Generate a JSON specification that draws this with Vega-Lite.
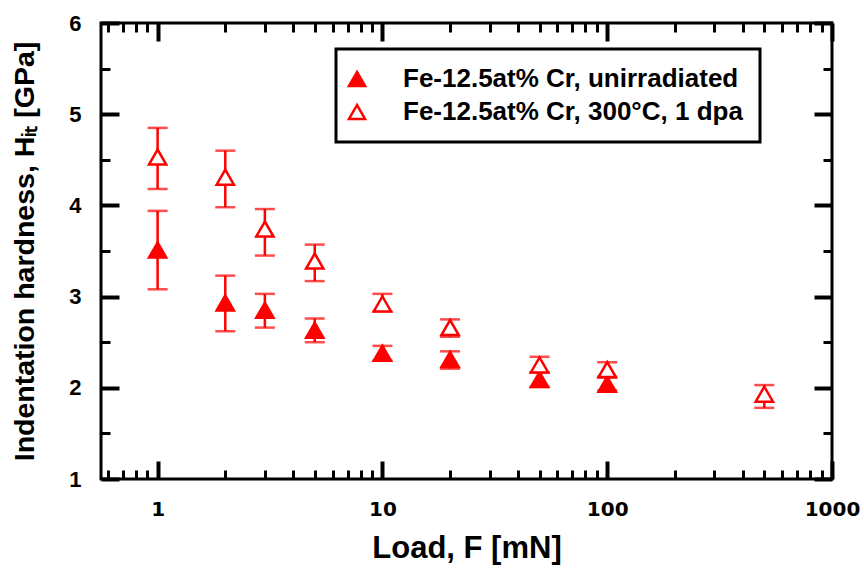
{
  "$schema": "https://vega.github.io/schema/vega-lite/v6.json",
  "width": 731,
  "height": 456,
  "autosize": {"type": "none"},
  "padding": {"left": 101, "top": 23, "right": 32, "bottom": 91},
  "background": "white",
  "config": {
    "view": {"stroke": "black", "strokeWidth": 3},
    "font": "Liberation Sans",
    "axis": {"grid": false, "domain": false, "tickColor": "black", "labelColor": "black", "titleColor": "black", "labelOverlap": false, "labelFlush": false, "labelBound": false},
    "legend": {"strokeWidth": 3}
  },
  "data": {
    "values": [
      {"series": "Fe-12.5at% Cr, unirradiated", "load": 1, "H": 3.51, "lo": 3.08, "hi": 3.94},
      {"series": "Fe-12.5at% Cr, unirradiated", "load": 2, "H": 2.93, "lo": 2.62, "hi": 3.23},
      {"series": "Fe-12.5at% Cr, unirradiated", "load": 3, "H": 2.85, "lo": 2.66, "hi": 3.03},
      {"series": "Fe-12.5at% Cr, unirradiated", "load": 5, "H": 2.63, "lo": 2.50, "hi": 2.76},
      {"series": "Fe-12.5at% Cr, unirradiated", "load": 10, "H": 2.38, "lo": 2.30, "hi": 2.46},
      {"series": "Fe-12.5at% Cr, unirradiated", "load": 20, "H": 2.31, "lo": 2.21, "hi": 2.40},
      {"series": "Fe-12.5at% Cr, unirradiated", "load": 50, "H": 2.09, "lo": 2.01, "hi": 2.17},
      {"series": "Fe-12.5at% Cr, unirradiated", "load": 100, "H": 2.04, "lo": 1.97, "hi": 2.11},
      {"series": "Fe-12.5at% Cr, 300°C, 1 dpa", "load": 1, "H": 4.53, "lo": 4.18, "hi": 4.85},
      {"series": "Fe-12.5at% Cr, 300°C, 1 dpa", "load": 2, "H": 4.31, "lo": 3.98, "hi": 4.60},
      {"series": "Fe-12.5at% Cr, 300°C, 1 dpa", "load": 3, "H": 3.74, "lo": 3.45, "hi": 3.96},
      {"series": "Fe-12.5at% Cr, 300°C, 1 dpa", "load": 5, "H": 3.39, "lo": 3.17, "hi": 3.57},
      {"series": "Fe-12.5at% Cr, 300°C, 1 dpa", "load": 10, "H": 2.92, "lo": 2.84, "hi": 3.03},
      {"series": "Fe-12.5at% Cr, 300°C, 1 dpa", "load": 20, "H": 2.66, "lo": 2.56, "hi": 2.75},
      {"series": "Fe-12.5at% Cr, 300°C, 1 dpa", "load": 50, "H": 2.25, "lo": 2.17, "hi": 2.34},
      {"series": "Fe-12.5at% Cr, 300°C, 1 dpa", "load": 100, "H": 2.20, "lo": 2.12, "hi": 2.28},
      {"series": "Fe-12.5at% Cr, 300°C, 1 dpa", "load": 500, "H": 1.93, "lo": 1.78, "hi": 2.03}
    ]
  },
  "layer": [
    {
      "mark": {"type": "rule", "color": "#ff0000", "strokeWidth": 2.5},
      "encoding": {
        "x": {
          "field": "load", "type": "quantitative",
          "scale": {"type": "log", "domain": [0.56, 1000], "nice": false},
          "axis": {
            "orient": "bottom",
            "values": [0.6, 0.7, 0.8, 0.9, 1, 2, 3, 4, 5, 6, 7, 8, 9, 10, 20, 30, 40, 50, 60, 70, 80, 90, 100, 200, 300, 400, 500, 600, 700, 800, 900, 1000],
            "labelExpr": "indexof([1, 10, 100, 1000], datum.value) >= 0 ? '' + datum.value : ''",
            "tickSize": {"condition": {"test": "indexof([1, 10, 100, 1000], datum.value) >= 0", "value": -18}, "value": -9},
            "tickWidth": {"condition": {"test": "indexof([1, 10, 100, 1000], datum.value) >= 0", "value": 4}, "value": 3},
            "labelFont": "DejaVu Sans", "labelFontWeight": "bold", "labelFontSize": 20,
            "labelPadding": 38,
            "title": "Load, F [mN]",
            "titleFont": "Liberation Sans", "titleFontWeight": "bold", "titleFontSize": 31,
            "titlePadding": 5
          }
        },
        "y": {
          "field": "lo", "type": "quantitative",
          "scale": {"domain": [1, 6], "nice": false, "zero": false},
          "axis": {
            "orient": "left",
            "values": [1, 1.5, 2, 2.5, 3, 3.5, 4, 4.5, 5, 5.5, 6],
            "labelExpr": "datum.value % 1 === 0 ? '' + datum.value : ''",
            "tickSize": {"condition": {"test": "datum.value % 1 === 0", "value": -18}, "value": -9},
            "tickWidth": {"condition": {"test": "datum.value % 1 === 0", "value": 4}, "value": 3},
            "labelFont": "Liberation Sans", "labelFontWeight": "bold", "labelFontSize": 22,
            "labelPadding": 38,
            "title": "Indentation hardness, Hᵢₜ [GPa]",
            "titleFont": "Liberation Sans", "titleFontWeight": "bold", "titleFontSize": 28.5,
            "titlePadding": 29
          }
        },
        "y2": {"field": "hi"}
      }
    },
    {
      "mark": {"type": "tick", "orient": "horizontal", "color": "#ff0000", "size": 20, "thickness": 2.5},
      "encoding": {
        "x": {
          "field": "load", "type": "quantitative",
          "axis": {
            "orient": "top",
            "values": [0.6, 0.7, 0.8, 0.9, 1, 2, 3, 4, 5, 6, 7, 8, 9, 10, 20, 30, 40, 50, 60, 70, 80, 90, 100, 200, 300, 400, 500, 600, 700, 800, 900, 1000],
            "labels": false, "title": null,
            "tickSize": {"condition": {"test": "indexof([1, 10, 100, 1000], datum.value) >= 0", "value": -18}, "value": -9},
            "tickWidth": {"condition": {"test": "indexof([1, 10, 100, 1000], datum.value) >= 0", "value": 4}, "value": 3}
          }
        },
        "y": {
          "field": "hi", "type": "quantitative",
          "axis": {
            "orient": "right",
            "values": [1, 1.5, 2, 2.5, 3, 3.5, 4, 4.5, 5, 5.5, 6],
            "labels": false, "title": null,
            "tickSize": {"condition": {"test": "datum.value % 1 === 0", "value": -18}, "value": -9},
            "tickWidth": {"condition": {"test": "datum.value % 1 === 0", "value": 4}, "value": 3}
          }
        }
      }
    },
    {
      "mark": {"type": "tick", "orient": "horizontal", "color": "#ff0000", "size": 20, "thickness": 2.5},
      "encoding": {
        "x": {"field": "load", "type": "quantitative", "axis": null},
        "y": {"field": "lo", "type": "quantitative", "axis": null}
      }
    },
    {
      "mark": {"type": "point", "shape": "triangle-up", "filled": true, "stroke": "#ff0000", "strokeWidth": 2.5, "size": 300, "opacity": 1},
      "encoding": {
        "x": {"field": "load", "type": "quantitative", "axis": null},
        "y": {"field": "H", "type": "quantitative", "axis": null},
        "fill": {
          "field": "series", "type": "nominal",
          "scale": {"domain": ["Fe-12.5at% Cr, unirradiated", "Fe-12.5at% Cr, 300°C, 1 dpa"], "range": ["#ff0000", "#ffffff"]},
          "legend": {
            "title": null,
            "orient": "none", "legendX": 235, "legendY": 26,
            "symbolType": "triangle-up", "symbolSize": 260, "symbolStrokeColor": "#ff0000", "symbolStrokeWidth": 2.5,
            "symbolOffset": -9,
            "labelFont": "Liberation Sans", "labelFontWeight": "bold", "labelFontSize": 26, "labelColor": "black",
            "labelOffset": 33, "labelLimit": 600, "rowPadding": 7,
            "padding": 17, "strokeColor": "black", "fillColor": "white"
          }
        }
      }
    }
  ],
  "resolve": {"axis": {"x": "independent", "y": "independent"}}
}
